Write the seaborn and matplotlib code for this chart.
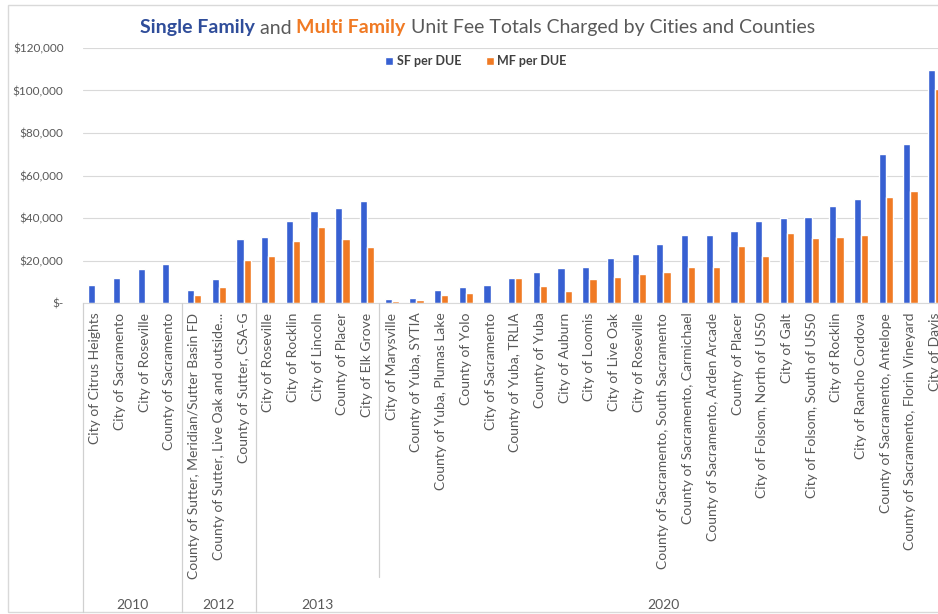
import numpy as np
import pandas as pd
import seaborn as sns
import matplotlib.pyplot as plt
from matplotlib.patches import Rectangle

# data
years = ["2010"] * 4 + ["2012"] * 3 + ["2013"] * 5 + ["2020"] * 23
places = [
    "City of Citrus Heights", "City of Sacramento", "City of Roseville", "County of Sacramento",
    "County of Sutter, Meridian/Sutter Basin FD", "County of Sutter, Live Oak and outside...",
    "County of Sutter, CSA-G",
    "City of Roseville", "City of Rocklin", "City of Lincoln", "County of Placer", "City of Elk Grove",
    "City of Marysville", "County of Yuba, SYTIA", "County of Yuba, Plumas Lake", "County of Yolo",
    "City of Sacramento", "County of Yuba, TRLIA", "County of Yuba", "City of Auburn",
    "City of Loomis", "City of Live Oak", "City of Roseville",
    "County of Sacramento, South Sacramento", "County of Sacramento, Carmichael",
    "County of Sacramento, Arden Arcade", "County of Placer", "City of Folsom, North of US50",
    "City of Galt", "City of Folsom, South of US50", "City of Rocklin", "City of Rancho Cordova",
    "County of Sacramento, Antelope", "County of Sacramento, Florin Vineyard", "City of Davis",
]
sf_per_due = [
    8500, 12000, 16000, 18200,
    6100, 11200, 30100,
    31200, 38700, 43400, 44700, 48000,
    1700, 2500, 6100, 7700, 8500, 11600, 14700, 16300, 16800, 21000, 22900,
    27800, 32100, 32100, 33900, 38600, 39900, 40600, 45600, 49100, 70100, 74800, 109600,
]
mf_per_due = [
    0, 0, 0, 0,
    3800, 7700, 20200,
    22100, 29300, 35900, 30300, 26200,
    900, 1500, 3800, 4700, 0, 11600, 8000, 5600, 11100, 12100, 13600,
    14600, 16800, 16800, 26800, 22100, 33100, 30700, 30900, 32100, 50000, 52900, 100500,
]
series = ["SF per DUE", "MF per DUE"]
colors = ["#3760D2", "#F07A24"]

# unique keys so repeated place names stay separate bars
keys = [f"{y}|{i}|{p}" for i, (y, p) in enumerate(zip(years, places))]
df = pd.DataFrame({
    "key": keys * 2,
    "series": [series[0]] * len(keys) + [series[1]] * len(keys),
    "value": sf_per_due + mf_per_due,
})

sns.set_style("white")
plt.rcParams["font.family"] = ["Lato", "DejaVu Sans"]
grey = "#595959"

fig = plt.figure(figsize=(9.38, 6.14), dpi=100)
W, H = 938, 614
n = len(keys)
cat_w = 24.7
left, bottom, top = 83, 303, 48
ax = fig.add_axes([left / W, (H - bottom) / H, n * cat_w / W, (bottom - top) / H])

sns.barplot(data=df, x="key", y="value", hue="series", order=keys, hue_order=series,
            palette=colors, width=0.58, saturation=1, ax=ax, legend=True)

ax.set_xlim(-0.5, n - 0.5)
ax.set_ylim(0, 120000)
ax.set_yticks(np.arange(0, 120001, 20000))
ax.set_yticklabels(["$-"] + [f"${v:,.0f}" for v in range(20000, 120001, 20000)],
                   fontsize=8.5, color=grey)
ax.yaxis.grid(True, color="#d9d9d9", linewidth=0.8)
ax.set_axisbelow(True)
for s in ["top", "right", "left"]:
    ax.spines[s].set_visible(False)
ax.spines["bottom"].set_color("#d9d9d9")
ax.set_xlabel("")
ax.set_ylabel("")
ax.set_xticks(range(n))
ax.set_xticklabels(places, rotation=90, fontsize=10, color=grey, va="top", ha="center")
ax.tick_params(axis="both", length=0)
ax.tick_params(axis="y", pad=14)
ax.tick_params(axis="x", pad=7)

ax.legend(loc="center", bbox_to_anchor=(476 / W, (H - 61) / H), bbox_transform=fig.transFigure,
          ncol=2, frameon=False, handlelength=0.6, handleheight=0.6,
          columnspacing=2.0, handletextpad=0.3, labelcolor="#404040",
          prop={"weight": "bold", "size": 9})

# year groups below the category labels
groups = []
for y in years:
    if not groups or groups[-1][0] != y:
        groups.append([y, 0])
    groups[-1][1] += 1
start = 0
bounds = [0]
for y, cnt in groups:
    mid = left + (start + cnt / 2) * cat_w
    fig.text(mid / W, (H - 605) / H, y, ha="center", va="center", fontsize=10, color=grey)
    start += cnt
    bounds.append(start)
line_ends = [612, 612, 612, 577, 612]
for b, end in zip(bounds, line_ends):
    x = (left + b * cat_w) / W
    if x < 1:
        fig.add_artist(plt.Line2D([x, x], [(H - bottom) / H, (H - end) / H],
                                  color="#d0d0d0", linewidth=0.9))

# title with coloured words, chained one after another
parts = [("Single Family", "#2F4D9A", "bold"), (" and ", grey, "normal"),
         ("Multi Family", "#F07A24", "bold"),
         (" Unit Fee Totals Charged by Cities and Counties", grey, "normal")]
t = fig.text(140 / W, (H - 28) / H, parts[0][0], color=parts[0][1], weight=parts[0][2],
             fontsize=14, va="center", ha="left")
for txt, col, wt in parts[1:]:
    t = ax.annotate(txt, xy=(1, 0), xycoords=t, va="bottom", ha="left",
                    color=col, weight=wt, fontsize=14, annotation_clip=False)

# chart border
fig.add_artist(Rectangle((8 / W, 2 / H), 1.0, (H - 7) / H, transform=fig.transFigure,
                         fill=False, edgecolor="#d9d9d9", linewidth=1))

fig.savefig("out.png", dpi=100)
